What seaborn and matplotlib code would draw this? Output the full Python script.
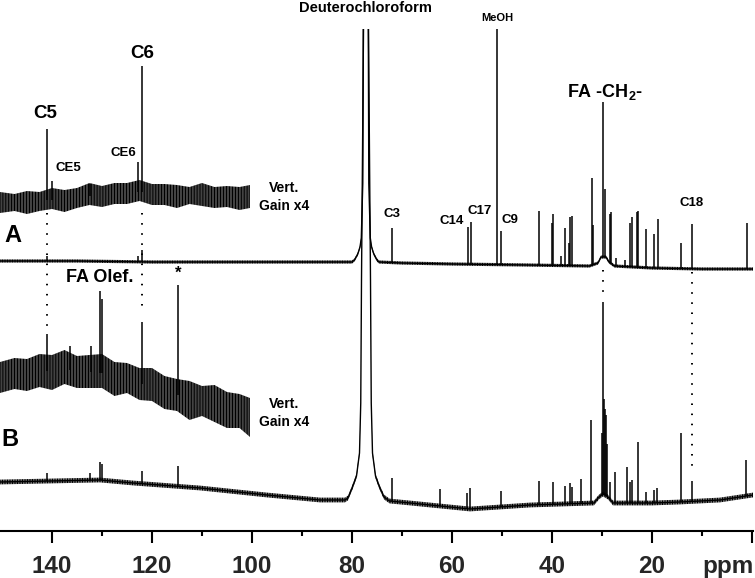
import numpy as np
import matplotlib
matplotlib.use('Agg')
import matplotlib.pyplot as plt
import seaborn as sns

# DATA (ppm on x, intensity in relative units above each trace's baseline)

# trace A (main) - baseline profile incl. CDCl3 solvent line
a_prof_ppm = [150.4, 135, 120, 100, 86, 80.0, 79.5, 78.84, 78.4, 78.14, 77.84, 77.74, 77.69, 76.79,
              76.74, 76.64, 76.34, 76.08, 75.64, 75.0, 74.6, 70, 60, 45, 32.5, 30.8, 30.2, 29.2,
              28.6, 27.5, 20, 10, -0.2]
a_prof_int = [2, 2, 1, 1, 1, 1, 3, 9, 16, 25, 80, 240, 700, 700,
              240, 80, 25, 16, 9, 3, 1, 0, -1, -2, -3, 0, 6, 6,
              1, -3, -5, -6, -6]
# trace A (main) - lines
a_peak_ppm = [141.0, 122.9, 122.0, 72.0, 56.9, 56.2, 51.0, 50.2, 42.6, 40.0, 39.8, 38.2, 37.4, 36.6,
              36.4, 36.0, 32.0, 31.8, 29.8, 29.4, 28.4, 28.2, 27.2, 25.4, 24.4, 24.0, 23.0, 22.8,
              21.2, 19.6, 18.8, 14.2, 12.0, 1.0]
a_peak_int = [5, 6, 12, 35, 37, 42, 260, 34, 54, 42, 51, 10, 38, 23,
              49, 50, 87, 40, 155, 68, 49, 51, 8, 7, 44, 50, 55, 56,
              39, 34, 49, 26, 45, 46]

# trace A (vert. gain x4, 150-100 ppm)
a_ins_ppm = [150.4, 147.5, 145, 142.5, 140, 137.5, 135, 132.5, 130, 127.5, 125,
             122.5, 120, 117.5, 115, 112.5, 110, 107.5, 105, 102.5, 100.4]
a_ins_mid = [-5, -5, -5, -4, -3, -2, -1, 1, 2, 3, 4, 5, 4, 2, 2, 2, 2, 1, 0, 0, 0]
a_ins_hi = [10, 8, 11, 9, 12, 9, 10, 13, 9, 11, 10, 12, 9, 11, 10, 8, 12, 9, 11, 10, 12]
a_ins_lo = [11, 9, 12, 10, 9, 13, 10, 9, 12, 10, 11, 9, 12, 10, 13, 9, 11, 12, 10, 13, 11]
a_ins_peak_ppm = [141.0, 140.0, 132.4, 122.9, 122.0]
a_ins_peak_int = [71, 19, 12, 30, 126]

# trace B (main)
b_prof_ppm = [150.4, 130.4, 123.8, 110.4, 97, 86.4, 81.4, 80.8, 79.9, 79.1, 78.5, 78.25, 78.1,
              77.7, 77.65, 76.75, 76.7, 76.3, 76.15, 75.9, 75.3, 74.5, 73.6, 72.5, 68.4, 56.4,
              44.4, 31.6, 30.6, 29.8, 28.8, 27.8, 20, 14.4, 6.4, -0.2]
b_prof_int = [21, 23, 20, 15, 8, 3, 3, 5, 16, 27, 50, 100, 223,
              473, 700, 700, 473, 223, 100, 50, 27, 16, 6, 2, 0, -6,
              -2, 0, 6, 9, 6, 0, 0, 1, 3, 8]
b_peak_ppm = [141.0, 132.4, 130.4, 130.0, 122.0, 114.8, 72.0, 62.4, 57.0, 56.4, 50.2, 42.6, 39.8,
              37.4, 36.4, 36.0, 34.2, 32.2, 30.0, 29.8, 29.6, 29.5, 29.3, 29.1, 28.4, 27.4, 25.0,
              24.5, 24.1, 22.8, 21.2, 19.6, 19.0, 14.3, 12.0, 1.2]
b_peak_int = [8, 7, 18, 16, 13, 20, 23, 17, 16, 21, 16, 24, 22,
              18, 21, 17, 24, 83, 62, 192, 96, 86, 81, 52, 17, 31, 36,
              21, 23, 61, 11, 13, 15, 69, 20, 36]

# trace B (vert. gain x4)
b_ins_ppm = a_ins_ppm
b_ins_mid = [-2, 0, 2, 3, 4, 5, 4, 3, 2, -1, -4, -8, -11, -15, -20, -23, -26, -29, -33, -37, -40]
b_ins_hi = [15, 17, 14, 18, 16, 20, 15, 17, 19, 14, 16, 15, 18, 14, 16, 17, 15, 19, 16, 18, 17]
b_ins_lo = [16, 14, 18, 15, 19, 14, 17, 16, 15, 20, 14, 17, 15, 19, 16, 22, 15, 18, 20, 16, 22]
b_ins_peak_ppm = [141.0, 136.4, 132.3, 130.4, 130.0, 122.0, 114.8]
b_ins_peak_int = [37, 24, 26, 82, 74, 62, 110]

# LAYOUT
OFF_A, OFF_A_INS = 268, 334
OFF_B, OFF_B_INS = 28, 156
NOISE_A, NOISE_B = 1.6, 2.4

sns.set_theme(style='white')
plt.rcParams['font.family'] = ['Liberation Sans', 'DejaVu Sans']
plt.rcParams['font.weight'] = 'bold'
plt.rcParams['mathtext.fontset'] = 'custom'
plt.rcParams['mathtext.bf'] = 'Liberation Sans:bold'
plt.rcParams['mathtext.rm'] = 'Liberation Sans:bold'
plt.rcParams['hatch.linewidth'] = 0.9

fig = plt.figure(figsize=(7.55, 5.78), dpi=100)
ax = fig.add_axes([0, 47 / 578, 753 / 755, 502 / 578])


def draw_main(ppm, prof, pk_ppm, pk_int, off, noise):
    prof = np.array(prof, dtype=float) + off
    ax.fill_between(ppm, prof - noise, prof + noise, facecolor='none', edgecolor='black',
                    hatch='|' * 10, linewidth=0)
    sns.lineplot(x=ppm, y=prof, ax=ax, color='black', lw=1.0, sort=False, estimator=None)
    base = np.interp(pk_ppm, ppm[::-1], prof[::-1])
    ax.vlines(pk_ppm, base, base + np.array(pk_int), color='black', lw=1.1)


def draw_inset(ppm, mid, hi, lo, pk_ppm, pk_int, off):
    mid = np.array(mid, dtype=float) + off
    ax.fill_between(ppm, mid - np.array(lo), mid + np.array(hi), facecolor='none',
                    edgecolor='black', hatch='|' * 11, linewidth=0)
    base = np.interp(pk_ppm, ppm[::-1], mid[::-1])
    ax.vlines(pk_ppm, base, base + np.array(pk_int), color='black', lw=1.1)


draw_main(a_prof_ppm, a_prof_int, a_peak_ppm, a_peak_int, OFF_A, NOISE_A)
draw_main(b_prof_ppm, b_prof_int, b_peak_ppm, b_peak_int, OFF_B, NOISE_B)
draw_inset(a_ins_ppm, a_ins_mid, a_ins_hi, a_ins_lo, a_ins_peak_ppm, a_ins_peak_int, OFF_A_INS)
draw_inset(b_ins_ppm, b_ins_mid, b_ins_hi, b_ins_lo, b_ins_peak_ppm, b_ins_peak_int, OFF_B_INS)

# dotted guide lines
dot = dict(color='black', lw=1.4, linestyle=(0, (0.8, 4.4)))
ax.plot([141.0, 141.0], [318, 201], **dot)
ax.plot([122.0, 122.0], [318, 219], **dot)
ax.plot([29.8, 29.8], [261, 231], **dot)
ax.plot([12.0, 12.0], [259, 61], **dot)

# labels
txt = dict(ha='center', va='center', fontweight='bold', color='black', clip_on=False)
ax.text(77.4, 523, 'Deuterochloroform', fontsize=10.5, **txt)
ax.text(51.0, 513, 'MeOH', fontsize=8, **txt)
ax.text(141.4, 418, 'C5', fontsize=13.5, **txt)
ax.text(122.0, 478, 'C6', fontsize=13.5, **txt)
ax.text(136.8, 363, 'CE5', fontsize=9.5, **txt)
ax.text(125.8, 378, 'CE6', fontsize=9.5, **txt)
ax.text(93.6, 334, 'Vert.\nGain x4', fontsize=10, linespacing=1.3, **txt)
ax.text(93.6, 118, 'Vert.\nGain x4', fontsize=10, linespacing=1.3, **txt)
ax.text(147.8, 296, 'A', fontsize=17, **txt)
ax.text(148.4, 91, 'B', fontsize=17, **txt)
ax.text(72.0, 317, 'C3', fontsize=9.5, **txt)
ax.text(60.0, 310, 'C14', fontsize=9.5, **txt)
ax.text(54.4, 320, 'C17', fontsize=9.5, **txt)
ax.text(48.4, 311, 'C9', fontsize=9.5, **txt)
ax.text(12.0, 328, 'C18', fontsize=9.5, **txt)
ax.text(29.4, 439, r'FA -CH$_\mathbf{2}$-', fontsize=13, **txt)
ax.text(130.4, 253, 'FA Olef.', fontsize=13, **txt)
ax.text(114.8, 258, '*', fontsize=12, **txt)
ax.text(4.8, -42, 'ppm', fontsize=17.5, ha='center', va='baseline', fontweight='bold', clip_on=False)

# axis
ax.set_xlim(150.4, -0.2)
ax.set_ylim(0, 502)
ax.set_yticks([])
ax.set_xlabel('')
ax.set_ylabel('')
for s in ['top', 'left', 'right']:
    ax.spines[s].set_visible(False)
ax.spines['bottom'].set_linewidth(1.5)
ax.spines['bottom'].set_color('black')
ax.set_xticks([140, 120, 100, 80, 60, 40, 20, 0])
ax.set_xticklabels(['140', '120', '100', '80', '60', '40', '20', ''])
ax.set_xticks([130, 110, 90, 70, 50, 30, 10], minor=True)
ax.tick_params(axis='x', which='major', bottom=True, length=8.6, width=1.5, direction='out',
               labelsize=17.5, pad=8.5, color='black')
ax.tick_params(axis='x', which='minor', bottom=True, length=3.6, width=1.5, direction='out',
               color='black')
for lab in ax.get_xticklabels():
    lab.set_fontweight('bold')

fig.savefig('out.png', dpi=100)
